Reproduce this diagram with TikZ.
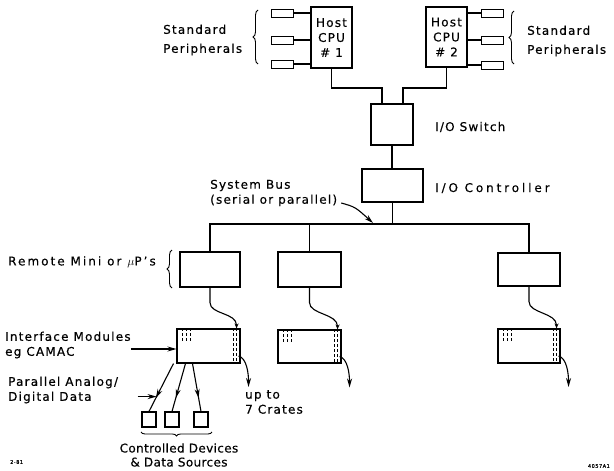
\documentclass[tikz,border=0pt]{standalone}
\usepackage{fontspec}
\newfontfamily\lettering{DejaVu Sans}[LetterSpace=10, FakeBold=0.4]
\newfontfamily\letteringwide{DejaVu Sans}[LetterSpace=24, FakeBold=0.4]
\newfontfamily\letteringmid{DejaVu Sans}[LetterSpace=17, FakeBold=0.4]
\newfontfamily\letteringtight{DejaVu Sans}[LetterSpace=3, FakeBold=0.4]
\usetikzlibrary{positioning,arrows.meta,decorations.pathreplacing,decorations.markings}

\tikzset{
  unit/.style={draw, line width=1.1pt, inner sep=0pt},
  periph/.style={draw, line width=1pt, minimum width=22pt, minimum height=8pt, inner sep=0pt},
  lbl/.style={inner sep=0pt, align=left, font=\lettering\fontsize{12}{15}\selectfont},
  widelbl/.style={lbl, font=\lettering\fontsize{12}{19}\selectfont},
  wire/.style={line width=1.1pt},
  tip/.style={-{Stealth[length=9pt,width=5pt]}},
  midtip/.style={postaction={decorate, decoration={markings,
      mark=at position 0.72 with {\arrow{Stealth[length=9pt,width=5pt]}}}}},
  slot/.style={line width=0.6pt, densely dashed},
  curly/.style={decorate, decoration={brace, amplitude=5pt}, line width=0.9pt},
}

\begin{document}
\begin{tikzpicture}[x=1pt, y=-1pt, every node/.style={font=\lettering\fontsize{12}{15}\selectfont}]
\useasboundingbox (0,0) rectangle (614,471);

% host processors and their peripherals
\node[unit, minimum width=41pt, minimum height=61pt, align=center] (cpu1) at (331.5,37.5) {Host\\CPU\\\# 1};
\node[unit, minimum width=41pt, minimum height=60pt, align=center] (cpu2) at (446.5,37) {Host\\CPU\\\# 2};
\foreach \y [count=\i] in {13,40,64} {
  \node[periph] (pa\i) at (282,\y) {};
  \draw[wire] (pa\i.east) -- (pa\i -| cpu1.west);
}
\foreach \y [count=\i] in {13,40,65} {
  \node[periph] (pb\i) at (492.5,\y) {};
  \draw[wire] (pb\i.west) -- (pb\i -| cpu2.east);
}
\draw[curly] (258,64) -- (258,10);
\draw[curly] (514,64) -- (514,11);
\node[widelbl, anchor=west] (stdA) at (163,40) {Standard\\Peripherals};
\node[widelbl, anchor=west] (stdB) at (527,41) {Standard\\Peripherals};

% switch and controller
\node[unit, minimum width=42pt, minimum height=41pt] (sw) at (392,124.5) {};
\node[unit, minimum width=61pt, minimum height=33pt] (ctrl) at (392.5,185.5) {};
\node[lbl, anchor=west] (swl) at (435,127) {I/O Switch};
\node[lbl, anchor=west, font=\letteringwide\fontsize{12}{15}\selectfont] (ctrll) at (435,188) {I/O Controller};
\coordinate (j1) at (382,88);
\coordinate (j2) at (403,88);
\draw[wire] (cpu1.south) |- (j1) -- (j1 |- sw.north);
\draw[wire] (cpu2.south) |- (j2) -- (j2 |- sw.north);
\draw[wire] (sw.south) -- (sw.south |- ctrl.north);

% system bus
\coordinate (bus) at (0,224);
\coordinate (bustap) at (373,223);
\node[unit, minimum width=60pt, minimum height=35pt] (rem1) at (210,269.5) {};
\node[unit, minimum width=63pt, minimum height=35pt] (rem2) at (309.5,269.5) {};
\node[unit, minimum width=62pt, minimum height=33pt] (rem3) at (529,269.5) {};
\draw[wire] (rem1.north) |- (rem3.north |- bus) -- (rem3.north);
\draw[wire] (rem2.north) -- (rem2.north |- bus);
\draw[wire] (ctrl.south) -- (ctrl.south |- bus);
\node[lbl, anchor=west] (sysbus) at (210,193) {System Bus\\(serial or parallel)};
\draw[wire, tip] ([shift={(4pt,-10pt)}]sysbus.east) .. controls +(14,4) .. (bustap);
\node[lbl, anchor=west, font=\letteringmid\fontsize{12}{15}\selectfont] (reml) at (8,262) {Remote Mini or $\mu$P’s};
\draw[curly] (172,288) -- (172,250);

% crates
\node[unit, minimum width=63pt, minimum height=34pt] (cr1) at (208.5,346) {};
\node[unit, minimum width=63pt, minimum height=33pt] (cr2) at (309.5,346.5) {};
\node[unit, minimum width=62pt, minimum height=34pt] (cr3) at (529,346) {};
\foreach \c/\r in {cr1/rem1,cr2/rem2,cr3/rem3} {
  \foreach \dx in {6,10,14} \draw[slot] ([xshift=\dx pt]\c.north west) -- ++(0,14);
  \foreach \dx in {4,7} \draw[slot] ([xshift=-\dx pt]\c.north east) -- ([xshift=-\dx pt]\c.south east);
  \draw[wire, -{Stealth[length=5pt,width=4pt]}] (\r.south) -- ++(0,15)
    .. controls +(0,12) and +(0,-16) .. ([xshift=-4pt]\c.north east);
  \draw[wire, tip] ([shift={(-2pt,-10pt)}]\c.east) .. controls +(8,2) and +(0,-14) .. +(10,31);
}
\node[lbl, anchor=west] (upto) at (245,402) {up to\\7 Crates};
\node[lbl, anchor=west] (ifm) at (5,345) {Interface Modules\\eg CAMAC};
\coordinate (c1in) at ([yshift=-3pt]cr1.west);
\draw[wire, tip] (c1in -| ifm.east) -- (c1in);

% controlled devices
\foreach \x [count=\i] in {149,172,201}
  \node[unit, minimum width=14pt, minimum height=15pt] (dev\i) at (\x,419.5) {};
\draw[wire, midtip] ([xshift=-35pt]cr1.south) -- (dev1.north) coordinate[pos=0.69] (pd);
\draw[wire, midtip] ([xshift=-23pt]cr1.south) -- (dev2.north);
\draw[wire, midtip] ([xshift=-16pt]cr1.south) -- (dev3.north);
\node[lbl, anchor=west] (pad) at (8,390) {Parallel Analog/\\Digital Data};
\draw[wire, tip] ([xshift=-19pt]pd) -- (pd);
\draw[curly, decoration={brace, amplitude=4pt, mirror}] (141,432) -- (212,432);
\node[lbl, align=center, font=\letteringtight\fontsize{12}{14}\selectfont] (devl) at (179,455) {Controlled Devices\\\& Data Sources};

\node[inner sep=0pt, anchor=west, font=\lettering\fontsize{5}{6}\selectfont] (dateA) at (10,462) {2-81};
\node[inner sep=0pt, anchor=east, font=\lettering\fontsize{5}{6}\selectfont] (figno) at (610,466) {4057A1};
\end{tikzpicture}
\end{document}
